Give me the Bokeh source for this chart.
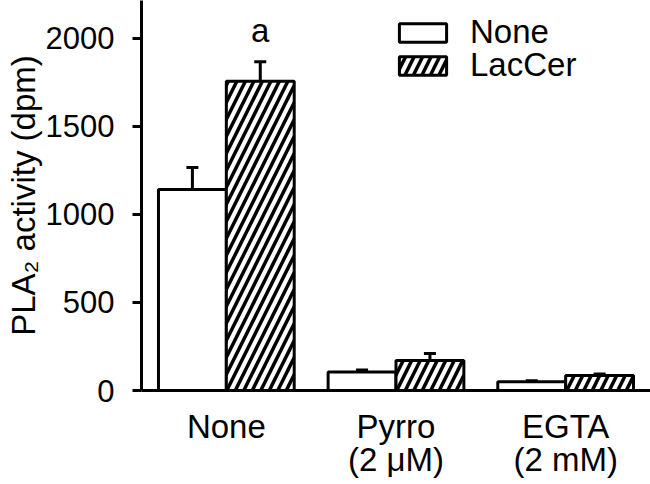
from bokeh.plotting import figure
from bokeh.models import (ColumnDataSource, FixedTicker, Whisker, TeeHead, Legend, LegendItem,
                          Range1d, LabelSet)
from bokeh.core.properties import value
from bokeh.embed import file_html
from bokeh.resources import INLINE

categories = ["None", "Pyrro\n(2 \u03bcM)", "EGTA\n(2 mM)"]
none_vals = [1140, 105, 50]
none_err = [125, 12, 5]
lac_vals = [1755, 170, 85]
lac_err = [110, 40, 8]
y_ticks = [0, 500, 1000, 1500, 2000]
sig_labels = ["a", "", ""]
series_names = ["None", "LacCer"]

FONT = "Liberation Sans"
xs = list(range(1, len(categories) + 1))
bw = 0.4

p = figure(width=650, height=484, output_backend="svg", toolbar_location=None,
           x_range=Range1d(0.5, 3.5), y_range=Range1d(0, 2213),
           min_border_left=141, min_border_right=0, min_border_top=0, min_border_bottom=94)
p.outline_line_color = None
p.xgrid.visible = False
p.ygrid.visible = False
p.background_fill_color = "white"

src_none = ColumnDataSource(dict(x=[x - bw / 2 for x in xs], top=none_vals,
                                 lower=none_vals, upper=[v + e for v, e in zip(none_vals, none_err)]))
src_lac = ColumnDataSource(dict(x=[x + bw / 2 for x in xs], top=lac_vals,
                                lower=lac_vals, upper=[v + e for v, e in zip(lac_vals, lac_err)]))

r1 = p.vbar(x="x", top="top", bottom=0, width=bw, source=src_none,
            fill_color="white", line_color="black", line_width=3)
r2 = p.vbar(x="x", top="top", bottom=0, width=bw, source=src_lac,
            fill_color="white", line_color="black", line_width=3,
            hatch_pattern="right_diagonal_line", hatch_color="black",
            hatch_scale=17, hatch_weight=3.5)

for src in (src_none, src_lac):
    w = Whisker(base="x", lower="lower", upper="upper", source=src,
                line_width=3, line_color="black",
                upper_head=TeeHead(size=12, line_width=3, line_color="black"),
                lower_head=None)
    p.add_layout(w)

sig_src = ColumnDataSource(dict(x=[x + bw / 2 for x in xs],
                                y=[v + e for v, e in zip(lac_vals, lac_err)],
                                t=sig_labels))
p.add_layout(LabelSet(x="x", y="y", text="t", source=sig_src, y_offset=20,
                      text_align="center", text_baseline="alphabetic",
                      text_font=value(FONT), text_font_size="33px", text_color="black"))

# axes
p.xaxis.ticker = FixedTicker(ticks=xs)
p.xaxis.major_label_overrides = {x: c for x, c in zip(xs, categories)}
p.xaxis.major_tick_line_color = None
p.xaxis.minor_tick_line_color = None
p.xaxis.axis_line_width = 3
p.xaxis.axis_line_color = "black"
p.xaxis.major_label_text_font = FONT
p.xaxis.major_label_text_font_size = "33px"
p.xaxis.major_label_text_color = "black"
p.xaxis.major_label_text_line_height = 0.9
p.xaxis.major_label_standoff = 11

p.yaxis.ticker = FixedTicker(ticks=y_ticks)
p.yaxis.minor_tick_line_color = None
p.yaxis.major_tick_in = 0
p.yaxis.major_tick_out = 9
p.yaxis.major_tick_line_width = 3
p.yaxis.axis_line_width = 3
p.yaxis.axis_line_color = "black"
p.yaxis.major_label_text_font = FONT
p.yaxis.major_label_text_font_size = "31px"
p.yaxis.major_label_text_color = "black"
p.yaxis.major_label_standoff = 18
p.yaxis.axis_label = "PLA\u2082 activity (dpm)"
p.yaxis.axis_label_text_font = FONT
p.yaxis.axis_label_text_font_size = "33px"
p.yaxis.axis_label_text_font_style = "normal"
p.yaxis.axis_label_text_color = "black"
p.yaxis.axis_label_standoff = 1


def make_legend(name, rend, loc):
    lg = Legend(items=[LegendItem(label=name, renderers=[rend])], location=loc)
    lg.glyph_width = 59
    lg.glyph_height = 23
    lg.label_height = 23
    lg.spacing = 0
    lg.padding = 0
    lg.margin = 0
    lg.label_standoff = 18
    lg.label_text_font = FONT
    lg.label_text_font_size = "33px"
    lg.label_text_color = "black"
    lg.border_line_color = None
    lg.background_fill_alpha = 0
    return lg


p.add_layout(make_legend(series_names[0], r1, (252, 339)), "center")
p.add_layout(make_legend(series_names[1], r2, (252, 306)), "center")

open("out.html", "w").write(file_html(p, INLINE))
